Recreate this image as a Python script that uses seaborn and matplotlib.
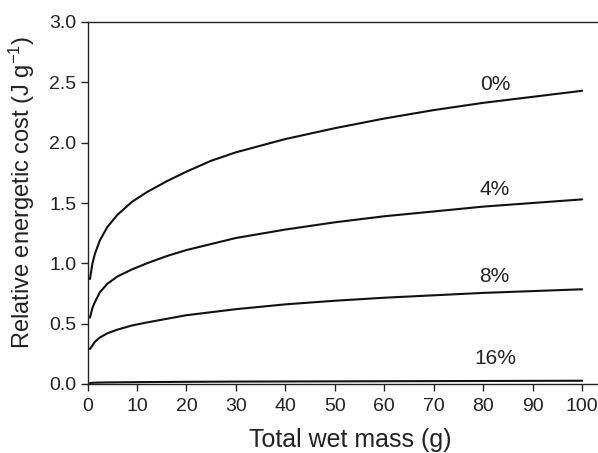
import matplotlib
matplotlib.use("Agg")
import matplotlib.pyplot as plt
import seaborn as sns
import pandas as pd

mass = [0.5, 1, 1.5, 2.5, 4, 6, 9, 12, 16, 20, 25, 30, 40, 50, 60, 70, 80, 90, 100]
cost_0 = [0.87, 1.00, 1.08, 1.19, 1.30, 1.40, 1.51, 1.59, 1.68, 1.76, 1.85, 1.92,
          2.03, 2.12, 2.20, 2.27, 2.33, 2.38, 2.43]
cost_4 = [0.55, 0.63, 0.68, 0.76, 0.83, 0.89, 0.95, 1.00, 1.06, 1.11, 1.16, 1.21,
          1.28, 1.34, 1.39, 1.43, 1.47, 1.50, 1.53]
cost_8 = [0.29, 0.32, 0.35, 0.385, 0.42, 0.45, 0.485, 0.51, 0.54, 0.57, 0.595, 0.62,
          0.66, 0.69, 0.715, 0.735, 0.755, 0.77, 0.785]
cost_16 = [0.008, 0.010, 0.011, 0.012, 0.013, 0.014, 0.015, 0.016, 0.017, 0.018,
           0.019, 0.020, 0.021, 0.022, 0.023, 0.024, 0.025, 0.026, 0.027]
series_labels = ["0%", "4%", "8%", "16%"]
label_x = [82.5, 82.3, 82.3, 82.5]
label_y = [2.48, 1.615, 0.895, 0.215]
x_ticks = list(range(0, 101, 10))
y_ticks = [0.0, 0.5, 1.0, 1.5, 2.0, 2.5, 3.0]

sns.set_style("ticks")
plt.rcParams["font.family"] = ["Liberation Sans", "DejaVu Sans"]
plt.rcParams["mathtext.fontset"] = "custom"
plt.rcParams["mathtext.rm"] = "Liberation Sans"
plt.rcParams["mathtext.it"] = "Liberation Sans"

frames = []
for lab, vals in zip(series_labels, [cost_0, cost_4, cost_8, cost_16]):
    frames.append(pd.DataFrame({"mass": mass, "cost": vals, "series": lab}))
df = pd.concat(frames, ignore_index=True)

fig = plt.figure(figsize=(5.98, 4.53), dpi=100)
ax = fig.add_axes([87.5 / 598, 69 / 453, (597 - 87.5) / 598, (384 - 22) / 453])
sns.lineplot(data=df, x="mass", y="cost", hue="series", hue_order=series_labels,
             palette=["#111111"] * 4, linewidth=1.5, legend=False, ax=ax)

for lab, lx, ly in zip(series_labels, label_x, label_y):
    ax.text(lx, ly, lab, ha="center", va="center", fontsize=15, color="#222222")

ax.set_xlim(0, 103)
ax.set_ylim(0, 3.0)
ax.set_xticks(x_ticks)
ax.set_yticks(y_ticks)
ax.set_yticklabels([f"{v:.1f}" for v in y_ticks])
ax.tick_params(axis="both", labelsize=14, length=5, width=1, colors="#222222",
               direction="out")
ax.tick_params(axis="x", pad=5)
ax.tick_params(axis="y", pad=3)
ax.set_xlabel("Total wet mass (g)", fontsize=18, color="#222222")
ax.set_ylabel(r"Relative energetic cost (J g$^{-1}$)", fontsize=17, color="#222222")
ax.xaxis.set_label_coords(0.516, -0.122)
ax.yaxis.set_label_coords(-0.10, 0.529)
for s in ["left", "bottom", "top"]:
    ax.spines[s].set_color("#222222")
    ax.spines[s].set_linewidth(1)
ax.spines["right"].set_visible(False)

fig.savefig("out.png", dpi=100)
